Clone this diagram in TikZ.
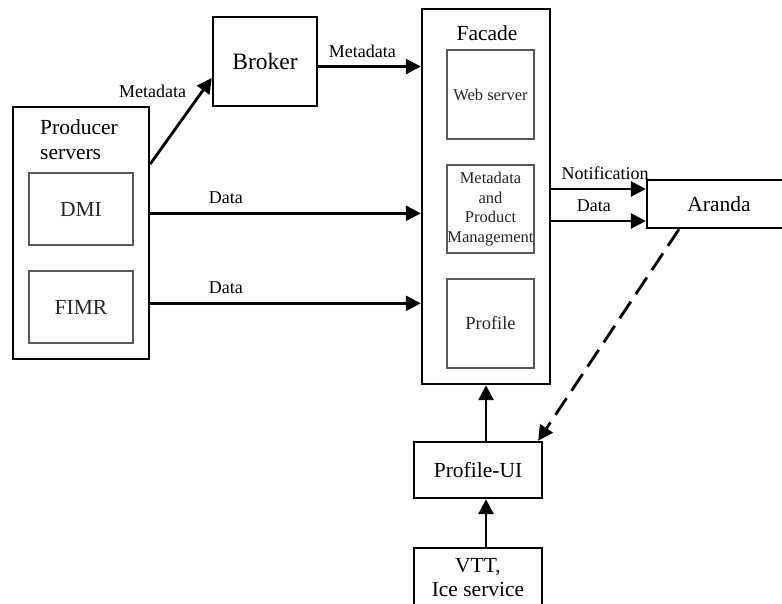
\documentclass[tikz,border=0pt]{standalone}
\usepackage{fontspec}
\setmainfont{Liberation Serif}
\usetikzlibrary{arrows.meta}

\begin{document}
\begin{tikzpicture}[x=1pt,y=-1pt]
    \tikzstyle{box}=[
        draw,
        line width=2.4pt,
        inner sep=0pt,
        align=center,
        font=\fontsize{21.5}{25}\selectfont]
    \tikzstyle{part}=[
        draw=black!65,
        line width=1.4pt,
        minimum width=87pt,
        minimum height=89pt,
        inner sep=0pt,
        align=center,
        text=black!85,
        font=\fontsize{16.5}{19.5}\selectfont]
    \tikzstyle{flow}=[line width=2.8pt,-{Triangle[length=15pt,width=15pt]}]
    \tikzstyle{lbl}=[font=\fontsize{18}{20}\selectfont,inner sep=0pt,anchor=base,yshift=9.5pt]

    \clip (0,0) rectangle (782,603);

    \node[box] [minimum width=136pt,minimum height=252pt] (prod) at (81,233) {};
    \node[box] [draw=none,anchor=north west,align=left] (prodtxt) at (39,118) {Producer\\servers};
    \node[part] [minimum width=104pt,minimum height=72pt,font=\fontsize{21.5}{25}\selectfont] (dmi) at (81,209) {DMI};
    \node[part] [minimum width=104pt,minimum height=72pt,font=\fontsize{21.5}{25}\selectfont] (fimr) at (81,307) {FIMR};
    \node[box] [minimum width=104pt,minimum height=89pt,font=\fontsize{23.5}{25}\selectfont] (broker) at (265,61.5) {Broker};
    \node[box] [minimum width=128pt,minimum height=375pt] (facade) at (486,196.5) {};
    \node[box] [draw=none,anchor=base] (facadetxt) at (487,40) {Facade};
    \node[part] (web) at (490.5,94.5) {Web server};
    \node[part] [minimum height=88pt] (meta) at (490.5,209) {Metadata\\and\\Product\\Management};
    \node[part] [font=\fontsize{18.5}{20}\selectfont] (prof) at (490.5,323.5) {Profile};
    \node[box] [minimum width=144pt,minimum height=48pt] (aranda) at (719,204) {Aranda};
    \node[box] [minimum width=128pt,minimum height=56pt] (ui) at (478,470) {Profile-UI};
    \node[box] [minimum width=128pt,minimum height=60pt,font=\fontsize{21.5}{24}\selectfont] (vtt) at (478,578) {VTT,\\Ice service};

    \draw[flow] ([yshift=69pt]prod.east) -- ([yshift=-16.5pt]broker.west)
        node[pos=0.75,font=\fontsize{18}{20}\selectfont,inner sep=0pt,anchor=base east,xshift=-9pt,yshift=2.5pt] {Metadata};
    \draw[flow] ([yshift=-5pt]broker.east) -- ([yshift=-5pt]broker.east -| facade.west) node[lbl,pos=0.43] {Metadata};
    \draw[flow] ([yshift=19.7pt]prod.east) -- ([yshift=19.7pt]prod.east -| facade.west) node[lbl,pos=0.28] {Data};
    \draw[flow] ([yshift=-70.3pt]prod.east) -- ([yshift=-70.3pt]prod.east -| facade.west) node[lbl,pos=0.28] {Data};
    \draw[flow] ([yshift=7.5pt]facade.east) -- ([yshift=7.5pt]facade.east -| aranda.west) node[lbl,pos=0.57] {Notification};
    \draw[flow] ([yshift=-24.5pt]facade.east) -- ([yshift=-24.5pt]facade.east -| aranda.west) node[lbl,pos=0.45] {Data};
    \draw[flow,dash pattern=on 20pt off 9pt] ([xshift=-40pt]aranda.south) -- ([xshift=-5pt]ui.north east);
    \draw[flow] (ui.north -| facade.south) -- (facade.south);
    \draw[flow] (vtt.north -| facade.south) -- (ui.south -| facade.south);
\end{tikzpicture}
\end{document}
